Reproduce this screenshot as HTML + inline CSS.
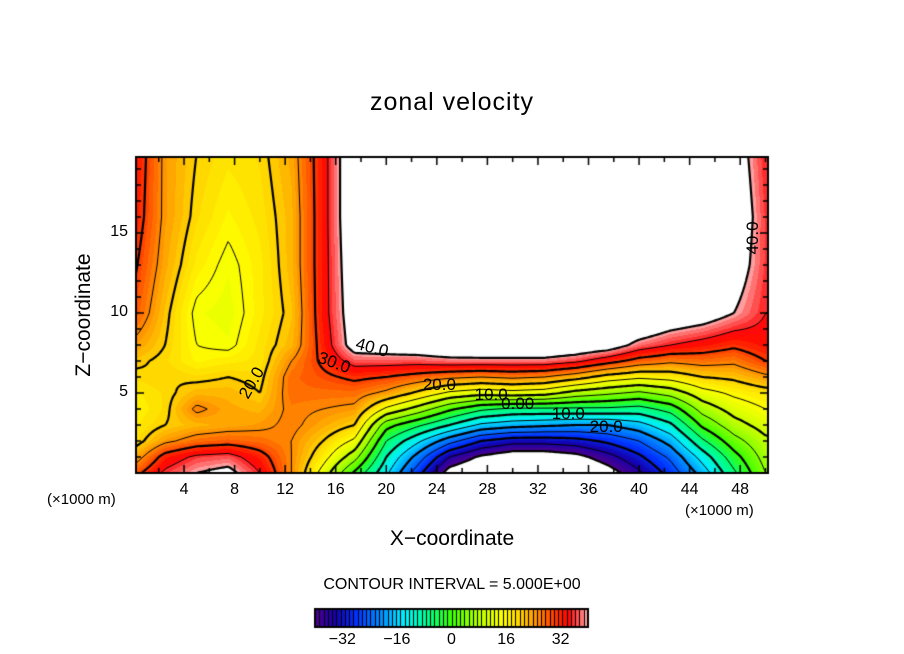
<!DOCTYPE html>
<html><head><meta charset="utf-8">
<style>
html,body{margin:0;padding:0;background:#fff;}
#wrap{position:relative;width:904px;height:654px;font-family:"Liberation Sans",sans-serif;color:#000;overflow:hidden;}
.t{position:absolute;white-space:nowrap;}
</style></head>
<body>
<div id="wrap">
<div class="t" style="left:0;width:904px;text-align:center;top:88px;font-size:25px;letter-spacing:1px;">zonal velocity</div>
<canvas id="cv" width="904" height="654" style="position:absolute;left:0;top:0;"></canvas>
<div class="t" style="left:-5px;top:302px;width:180px;text-align:center;font-size:21px;transform:rotate(-90deg);transform-origin:90px 13px;">Z−coordinate</div>
<div class="t" style="left:0;width:904px;text-align:center;top:527px;font-size:21px;">X−coordinate</div>
<div class="t" style="left:47px;top:491px;font-size:15px;">(×1000 m)</div>
<div class="t" style="left:685px;top:502px;font-size:15px;">(×1000 m)</div>
<div class="t" style="left:0;width:904px;text-align:center;top:576px;font-size:16px;">CONTOUR INTERVAL = 5.000E+00</div>
<div id="labels"></div>
</div>
<script>
// ---- data ----
const xs = [0,2.5,5,7.5,10,12.5,15,17.5,20,22.5,25,27.5,30,32.5,35,37.5,40,42.5,45,47.5,50];
const zs = [0,1,2,3,4,5,6,7,8,10,13,16,20];
// values per x-column, listed bottom (z=0) to top (z=20)
const u00 = [28,22,18,17,16,17,19,21,24,29,31,33,34];
const u02 = [36,32,24,20,19,19,20,19,20,21,23,24,24];
const u05 = [40,36,27,22,26,22,19,16,15,14,17,19,20];
const u07 = [42,37,28,23,23,22,20,17,14,13,14,16,18];
const u10 = [35,32,27,24,22,20,19,18,18,17,17,18,19];
const u12 = [25,25,25,26,26,27,27,25,22,21,22,22,23];
const u15 = [13,17,20,23,25,27,29,31,32,33,33,33,33];
const u17 = [-1,7,14,20,24,27,31,37,43,44,45,46,46];
const u20 = [-14,-10,-5,2,14,24,30,37,44,50,50,50,50];
const u22 = [-28,-22,-14,-4,8,19,28,37,45,50,50,50,50];
const u25 = [-43,-35,-23,-10,1,14,26,38,47,50,50,50,50];
const u27 = [-47,-41,-30,-16,-4,12,25,38,48,50,50,50,50];
const u30 = [-50,-44,-33,-18,-6,13,26,38,48,50,50,50,50];
const u32 = [-50,-44,-33,-19,-6,12,25,38,48,50,50,50,50];
const u35 = [-48,-42,-32,-20,-6,8,22,36,46,50,50,50,50];
const u37 = [-43,-37,-29,-20,-6,6,18,32,44,50,50,50,50];
const u40 = [-36,-31,-25,-17,-7,4,16,28,38,50,50,50,50];
const u42 = [-28,-24,-18,-11,-3,7,17,26,35,46,50,50,50];
const u45 = [-18,-13,-6,1,7,13,20,27,33,44,50,50,50];
const u47 = [-6,-2,3,8,12,16,21,26,31,40,44,46,44];
const u50 = [5,7,9,12,15,18,24,30,33,35,36,36,35];
const columns = [u00,u02,u05,u07,u10,u12,u15,u17,u20,u22,u25,u27,u30,u32,u35,u37,u40,u42,u45,u47,u50];
const xTicks = [4,8,12,16,20,24,28,32,36,40,44,48];
const zTicks = [5,10,15];
const cbTicks = [-32,-16,0,16,32];

// ---- geometry ----
const PL=136, PR=768, PT=157, PB=473;
const X0=0.2, X1=50.2, Z0=0.0, Z1=19.75;
const sx = x => PL + (x-X0)/(X1-X0)*(PR-PL);
const sz = z => PB - (z-Z0)/(Z1-Z0)*(PB-PT);
const ix = px => X0 + (px-PL)/(PR-PL)*(X1-X0);
const iz = py => Z0 + (PB-py)/(PB-PT)*(Z1-Z0);

function seg(arr, v){ let i=0; while(i<arr.length-2 && v>arr[i+1]) i++; let t=(v-arr[i])/(arr[i+1]-arr[i]); t=Math.max(0,Math.min(1,t)); return [i,t]; }
function field(x,z){
  const [i,tx]=seg(xs,x), [j,tz]=seg(zs,z);
  const a=columns[i][j], b=columns[i+1][j], c=columns[i][j+1], d=columns[i+1][j+1];
  return (a*(1-tx)+b*tx)*(1-tz)+(c*(1-tx)+d*tx)*tz;
}
const stops=[[-40,[80,0,140]],[-34,[20,0,170]],[-28,[0,50,255]],[-20,[0,150,255]],[-14,[0,240,255]],[-6,[0,255,120]],[0,[60,255,0]],[8,[180,255,0]],[15,[255,255,0]],[20,[255,210,0]],[25,[255,140,0]],[30,[255,60,0]],[34,[255,0,0]],[38,[255,110,110]],[40,[255,180,180]]];
function cmap(v){
  for(let k=0;k<stops.length-1;k++){ if(v<=stops[k+1][0]){const t=(v-stops[k][0])/(stops[k+1][0]-stops[k][0]);return stops[k][1].map((c,m)=>Math.round(c+(stops[k+1][1][m]-c)*t));}}
  return stops[stops.length-1][1];
}
const STEP=1.25;
function qcolor(v){ const k=Math.floor((v+40)/STEP); return cmap(-40+(k+0.5)*STEP); }

const cv=document.getElementById('cv'); const ctx=cv.getContext('2d');
const W=PR-PL, H=PB-PT;
const img=ctx.createImageData(W,H);
for(let py=0;py<H;py++){ for(let px=0;px<W;px++){
  const v=field(ix(PL+px+0.5), iz(PT+py+0.5)); const o=(py*W+px)*4;
  let c=(v>40||v<-40)?[255,255,255]:qcolor(v);
  img.data[o]=c[0];img.data[o+1]=c[1];img.data[o+2]=c[2];img.data[o+3]=255;
}}
ctx.putImageData(img,PL,PT);

// contours (marching squares)
const G=2, nx=Math.ceil(W/G), nz=Math.ceil(H/G);
const grid=[]; for(let j=0;j<=nz;j++){const r=[];for(let i=0;i<=nx;i++){r.push(field(ix(PL+i*G),iz(PT+j*G)));}grid.push(r);}
ctx.save(); ctx.beginPath(); ctx.rect(PL,PT,W,H); ctx.clip();
for(let L=-40;L<=40;L+=5){
  ctx.beginPath();
  for(let j=0;j<nz;j++)for(let i=0;i<nx;i++){
    const a=grid[j][i],b=grid[j][i+1],c=grid[j+1][i+1],d=grid[j+1][i];
    const pts=[];
    const e=(p,q,x1,y1,x2,y2)=>{ if((p<L)!==(q<L)){const t=(L-p)/(q-p);pts.push([x1+(x2-x1)*t,y1+(y2-y1)*t]);} };
    const X=PL+i*G,Y=PT+j*G;
    e(a,b,X,Y,X+G,Y); e(b,c,X+G,Y,X+G,Y+G); e(c,d,X+G,Y+G,X,Y+G); e(d,a,X,Y+G,X,Y);
    for(let k=0;k+1<pts.length;k+=2){ctx.moveTo(pts[k][0],pts[k][1]);ctx.lineTo(pts[k+1][0],pts[k+1][1]);}
  }
  ctx.strokeStyle='#000'; ctx.lineWidth=(L%10===0)?2.2:1;
  ctx.setLineDash(L<0?[5,4]:[]);
  ctx.stroke();
}
ctx.restore(); ctx.setLineDash([]);

// frame and ticks
ctx.strokeStyle='#000'; ctx.lineWidth=2; ctx.strokeRect(PL,PT,W,H);
ctx.lineWidth=1.5; ctx.beginPath();
for(let x=2;x<=50;x+=2){const p=sx(x),l=(x%4===0)?8:5;ctx.moveTo(p,PB);ctx.lineTo(p,PB-l);ctx.moveTo(p,PT);ctx.lineTo(p,PT+l);}
for(let z=1;z<=19;z++){const p=sz(z),l=(z%5===0)?8:5;ctx.moveTo(PL,p);ctx.lineTo(PL+l,p);ctx.moveTo(PR,p);ctx.lineTo(PR-l,p);}
ctx.stroke();

// colorbar
const CL=315,CR=588,CT=609,CB=627,NL=64;
for(let k=0;k<NL;k++){const v=-40+(k+0.5)*(80/NL);const c=cmap(v);const x0=CL+k*(CR-CL)/NL;ctx.fillStyle=`rgb(${c[0]},${c[1]},${c[2]})`;ctx.fillRect(x0,CT,(CR-CL)/NL+0.5,CB-CT);}
ctx.strokeStyle='#000';ctx.lineWidth=1;ctx.beginPath();
for(let k=1;k<NL;k++){const x0=Math.round(CL+k*(CR-CL)/NL)+0.5;ctx.moveTo(x0,CT);ctx.lineTo(x0,CB);}ctx.stroke();
ctx.lineWidth=2;ctx.strokeRect(CL,CT,CR-CL,CB-CT);

const lab=document.getElementById('labels');
function addLabel(txt,left,top,name,extra){
  const d=document.createElement('div'); d.className='t'; d.textContent=txt;
  d.style.cssText+=`left:${left}px;top:${top}px;font-size:16px;`+(extra||'');
  
  
  lab.appendChild(d);
}
xTicks.forEach(x=>addLabel(String(x),sx(x)-20,481,'x-tick-label','width:40px;text-align:center;'));
zTicks.forEach(z=>addLabel(String(z),88,sz(z)-10,'y-tick-label','width:40px;text-align:right;'));
const cbx=v=>CL+(v+40)/80*(CR-CL);
cbTicks.forEach(v=>addLabel(v<0?'−'+(-v):String(v),cbx(v)-25,631,'colorbar-tick-label','width:50px;text-align:center;'));
// contour labels
const cl=[['40.0',18.9,7.8,'15deg'],['30.0',15.9,6.9,'20deg'],['20.0',9.4,5.6,'-60deg'],['20.0',24.2,5.5,'0'],['10.0',28.3,4.9,'0'],['0.00',30.4,4.3,'0'],['10.0',34.4,3.7,'0'],['20.0',37.4,2.9,'0'],['40.0',49,14.7,'-90deg']];
cl.forEach(c=>addLabel(c[0],sx(c[1])-20,sz(c[2])-10,'contour-label',`width:40px;text-align:center;font-size:17px;transform:rotate(${c[3]});`));
</script>
</body></html>
